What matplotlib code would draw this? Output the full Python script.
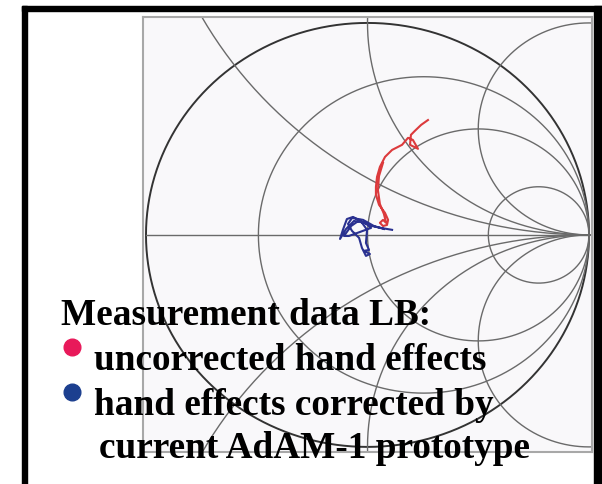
import numpy as np
import matplotlib
matplotlib.use('Agg')
import matplotlib.pyplot as plt
from matplotlib.patches import Rectangle
from matplotlib.lines import Line2D

# Smith chart grid values
r_values = [0.34, 1.0, 3.4]
x_values = [0.5, 1.0, 2.0]

# reflection coefficient, uncorrected hand effects (red)
red_re = [0.273, 0.242, 0.214, 0.196, 0.192, 0.228, 0.205, 0.183, 0.156, 0.111,
          0.079, 0.056, 0.043, 0.038, 0.038, 0.052, 0.079, 0.093, 0.088, 0.070,
          0.056, 0.070, 0.084, 0.074, 0.056, 0.047, 0.052, 0.070]
red_im = [0.542, 0.519, 0.491, 0.472, 0.425, 0.406, 0.448, 0.458, 0.425, 0.401,
          0.368, 0.321, 0.274, 0.226, 0.189, 0.142, 0.104, 0.071, 0.047, 0.042,
          0.057, 0.071, 0.057, 0.099, 0.146, 0.212, 0.278, 0.340]

# reflection coefficient, corrected by AdAM-1 prototype (blue)
blue_re = [0.111, 0.061, 0.020, -0.025, -0.065, -0.093, -0.111, -0.124, -0.097, -0.061,
           -0.011, 0.016, -0.034, -0.084, -0.106, -0.074, -0.034, -0.002, -0.007, 0.007,
           -0.016, 0.011, -0.007, -0.025, -0.038, -0.070, -0.088, -0.070, -0.020, 0.029, 0.074]
blue_im = [0.024, 0.033, 0.042, 0.061, 0.085, 0.075, 0.024, -0.019, 0.028, 0.066,
           0.057, 0.033, 0.014, -0.005, -0.005, 0.042, 0.071, 0.024, -0.038, -0.071,
           -0.075, -0.090, -0.099, -0.061, -0.014, 0.019, 0.052, 0.080, 0.071, 0.042, 0.028]

title = 'Measurement data LB:'
labels = ['uncorrected hand effects', 'hand effects corrected by', 'current AdAM-1 prototype']

W, H = 602, 484
fig = plt.figure(figsize=(W / 100, H / 100), dpi=100)

def fx(px):
    return px / W

def fy(py):
    return 1 - py / H

# chart box
ax = fig.add_axes([fx(143), fy(452), (592 - 143) / W, (452 - 17) / H])
ax.set_facecolor('#f9f8fa')
ax.set_xlim(-1.0135, 1.0135)
ax.set_ylim(-1.024, 1.028)
ax.set_xticks([])
ax.set_yticks([])
for s in ax.spines.values():
    s.set_color('#a8a8a8')
    s.set_linewidth(1.5)

t = np.linspace(0, 2 * np.pi, 721)
grid_col = '#6a6a6a'
# unit circle
ax.plot(np.cos(t), np.sin(t), color='#333333', lw=1.4)
# real axis
ax.plot([-1, 1], [0, 0], color=grid_col, lw=1.0)
# constant resistance circles
for r in r_values:
    c, rad = r / (1 + r), 1 / (1 + r)
    ax.plot(c + rad * np.cos(t), rad * np.sin(t), color=grid_col, lw=1.0)
# constant reactance arcs
for xv in x_values:
    rad = 1 / xv
    for sgn in (1, -1):
        ax.plot(1 + rad * np.cos(t), sgn * rad + rad * np.sin(t), color=grid_col, lw=1.0)

ax.plot(red_re, red_im, color='#dc3a3c', lw=1.5, zorder=5)
ax.plot(blue_re, blue_im, color='#2a3190', lw=1.5, zorder=6)

# black frame
for x0, y0, x1, y1 in [(22, 6, 27, 490), (22, 6, 602, 11), (594, 6, 602, 490)]:
    fig.add_artist(Rectangle((fx(x0), fy(y1)), (x1 - x0) / W, (y1 - y0) / H,
                             transform=fig.transFigure, color='black', zorder=10))

font = dict(family='Liberation Serif', weight='bold', size=26.8, color='black')
fig.text(fx(61), fy(325), title, va='baseline', ha='left', zorder=12, **font)
fig.text(fx(94), fy(370), labels[0], va='baseline', ha='left', zorder=12, **font)
fig.text(fx(94), fy(415), labels[1], va='baseline', ha='left', zorder=12, **font)
fig.text(fx(99), fy(458), labels[2], va='baseline', ha='left', zorder=12, **font)

fig.add_artist(Line2D([fx(72)], [fy(347)], marker='o', markersize=12, color='#e8195a',
                      transform=fig.transFigure, zorder=12))
fig.add_artist(Line2D([fx(72)], [fy(392)], marker='o', markersize=12, color='#1c3f8f',
                      transform=fig.transFigure, zorder=12))

fig.savefig('out.png', dpi=100)
